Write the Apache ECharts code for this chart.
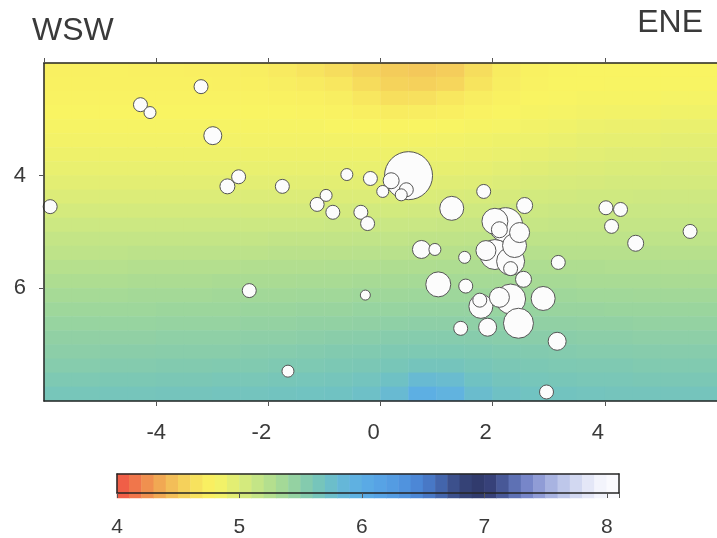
<!DOCTYPE html>
<html>
<head>
<meta charset="utf-8">
<script src="https://cdn.jsdelivr.net/npm/echarts@6/dist/echarts.min.js"></script>
<style>html,body{margin:0;padding:0;background:#fff;}#c{width:717px;height:538px;}</style>
</head>
<body>
<div id="c"></div>
<script>
// ---- velocity model cells (km along profile, depth km, Vp km/s) ----
const xCells = [-5.75,-5.25,-4.75,-4.25,-3.75,-3.25,-2.75,-2.25,-1.75,-1.25,-0.75,-0.25,0.25,0.75,1.25,1.75,2.25,2.75,3.25,3.75,4.25,4.75,5.25,5.75];
const depthCells = [2.125,2.375,2.625,2.875,3.125,3.375,3.625,3.875,4.125,4.375,4.625,4.875,5.125,5.375,5.625,5.875,6.125,6.375,6.625,6.875,7.125,7.375,7.625,7.875];
const velocity = [
[4.76,4.76,4.77,4.76,4.76,4.75,4.75,4.74,4.70,4.66,4.62,4.56,4.52,4.50,4.53,4.62,4.72,4.77,4.79,4.80,4.80,4.80,4.80,4.80],
[4.77,4.77,4.77,4.77,4.77,4.77,4.76,4.76,4.74,4.71,4.68,4.61,4.56,4.55,4.58,4.66,4.74,4.78,4.80,4.80,4.81,4.81,4.81,4.81],
[4.78,4.78,4.78,4.78,4.78,4.78,4.78,4.78,4.77,4.76,4.74,4.68,4.63,4.64,4.68,4.73,4.77,4.80,4.81,4.82,4.82,4.82,4.83,4.83],
[4.80,4.80,4.80,4.80,4.80,4.80,4.80,4.80,4.80,4.79,4.78,4.75,4.72,4.73,4.75,4.78,4.80,4.82,4.83,4.84,4.85,4.85,4.86,4.86],
[4.82,4.82,4.82,4.82,4.82,4.82,4.82,4.82,4.82,4.82,4.81,4.80,4.79,4.80,4.81,4.82,4.83,4.85,4.86,4.88,4.89,4.89,4.90,4.90],
[4.84,4.84,4.84,4.84,4.84,4.84,4.84,4.84,4.84,4.84,4.84,4.84,4.84,4.84,4.85,4.86,4.87,4.88,4.90,4.92,4.93,4.93,4.94,4.94],
[4.87,4.87,4.87,4.87,4.87,4.87,4.87,4.87,4.87,4.87,4.87,4.87,4.87,4.88,4.88,4.89,4.90,4.92,4.94,4.96,4.97,4.97,4.98,4.98],
[4.91,4.91,4.91,4.91,4.91,4.91,4.91,4.91,4.91,4.91,4.91,4.91,4.91,4.92,4.92,4.93,4.95,4.97,4.99,5.00,5.01,5.01,5.02,5.02],
[4.95,4.95,4.95,4.95,4.95,4.95,4.95,4.95,4.95,4.95,4.95,4.95,4.96,4.96,4.97,4.98,5.00,5.02,5.03,5.04,5.05,5.05,5.05,5.05],
[5.00,5.00,5.00,5.00,5.00,5.00,5.00,5.00,5.00,5.00,5.00,5.00,5.01,5.01,5.02,5.03,5.04,5.06,5.07,5.08,5.08,5.09,5.09,5.09],
[5.05,5.05,5.05,5.05,5.05,5.05,5.05,5.05,5.05,5.05,5.05,5.06,5.06,5.07,5.07,5.08,5.09,5.10,5.11,5.11,5.12,5.12,5.12,5.12],
[5.10,5.10,5.10,5.10,5.10,5.10,5.10,5.10,5.10,5.10,5.11,5.11,5.12,5.12,5.13,5.13,5.14,5.14,5.15,5.15,5.15,5.15,5.15,5.15],
[5.15,5.15,5.15,5.15,5.15,5.15,5.15,5.15,5.16,5.16,5.16,5.17,5.17,5.18,5.18,5.19,5.19,5.19,5.19,5.19,5.19,5.19,5.19,5.19],
[5.19,5.19,5.19,5.20,5.20,5.20,5.20,5.20,5.21,5.21,5.21,5.22,5.22,5.23,5.23,5.24,5.24,5.24,5.23,5.23,5.23,5.23,5.23,5.23],
[5.24,5.24,5.24,5.25,5.25,5.25,5.25,5.26,5.26,5.26,5.27,5.27,5.28,5.28,5.29,5.29,5.29,5.29,5.28,5.28,5.27,5.27,5.27,5.27],
[5.29,5.29,5.29,5.30,5.30,5.30,5.31,5.31,5.31,5.32,5.32,5.33,5.33,5.34,5.34,5.34,5.34,5.33,5.33,5.32,5.32,5.32,5.31,5.31],
[5.34,5.34,5.34,5.35,5.35,5.35,5.36,5.36,5.36,5.37,5.37,5.38,5.38,5.39,5.39,5.39,5.39,5.38,5.38,5.37,5.37,5.36,5.36,5.36],
[5.39,5.39,5.39,5.39,5.40,5.40,5.40,5.41,5.41,5.42,5.42,5.43,5.43,5.44,5.44,5.44,5.43,5.43,5.42,5.42,5.41,5.41,5.41,5.41],
[5.43,5.43,5.43,5.43,5.44,5.44,5.44,5.45,5.45,5.46,5.46,5.47,5.48,5.49,5.49,5.48,5.48,5.47,5.47,5.46,5.46,5.45,5.45,5.45],
[5.47,5.47,5.47,5.47,5.48,5.48,5.48,5.49,5.49,5.50,5.51,5.52,5.53,5.54,5.54,5.53,5.52,5.51,5.51,5.50,5.50,5.49,5.49,5.49],
[5.50,5.50,5.51,5.51,5.52,5.52,5.52,5.53,5.54,5.55,5.56,5.57,5.58,5.59,5.59,5.58,5.57,5.56,5.55,5.54,5.54,5.53,5.53,5.53],
[5.54,5.54,5.55,5.55,5.56,5.56,5.57,5.57,5.58,5.59,5.60,5.61,5.63,5.66,5.66,5.63,5.61,5.60,5.59,5.58,5.58,5.57,5.57,5.57],
[5.59,5.59,5.60,5.60,5.61,5.61,5.62,5.62,5.63,5.64,5.65,5.67,5.71,5.80,5.78,5.70,5.66,5.64,5.63,5.62,5.62,5.61,5.61,5.61],
[5.64,5.64,5.65,5.65,5.66,5.66,5.67,5.67,5.68,5.69,5.70,5.73,5.80,5.98,5.92,5.77,5.71,5.69,5.68,5.67,5.66,5.66,5.66,5.66]
];

// ---- earthquakes: distance (km), depth (km), magnitude ----
const quakeX = [-4.28,-4.11,-3.20,-2.99,-2.53,-2.73,-5.89,-1.75,-0.60,-0.97,-1.13,-0.85,-0.35,-2.34,-1.65,-0.18,0.50,0.19,0.04,0.46,-0.23,1.27,1.84,2.57,2.04,2.23,2.12,2.48,2.39,1.88,2.04,2.32,2.32,2.55,0.73,0.97,1.50,3.17,1.03,1.52,2.32,2.12,1.79,1.77,2.90,2.46,1.91,1.43,3.15,2.96,-0.27,4.02,4.28,4.12,4.55,5.52,0.37];
const quakeDepth = [2.74,2.88,2.42,3.29,4.02,4.19,4.55,4.19,3.98,4.35,4.51,4.65,4.65,6.04,7.47,4.05,4.00,4.09,4.28,4.25,4.85,4.58,4.28,4.53,4.81,4.87,4.96,5.01,5.24,5.33,5.40,5.52,5.65,5.84,5.31,5.31,5.45,5.54,5.93,5.96,6.19,6.16,6.32,6.21,6.18,6.62,6.69,6.71,6.94,7.84,6.12,4.57,4.60,4.90,5.20,4.99,4.34];
const quakeMag = [2.4,2.2,2.4,2.8,2.4,2.5,2.4,2.4,2.2,2.2,2.4,2.4,2.4,2.4,2.2,2.4,5.8,2.6,2.2,2.4,2.4,3.4,2.4,2.6,3.6,4.4,2.6,3.0,3.4,3.0,4.0,3.8,2.4,2.6,2.8,2.2,2.2,2.4,3.5,2.4,4.0,3.0,3.4,2.4,3.4,4.0,2.8,2.4,2.8,2.4,2.0,2.4,2.4,2.4,2.6,2.4,2.2];

// ---- colour scale ----
const colorbarSteps = [4.05,4.15,4.25,4.35,4.45,4.55,4.65,4.75,4.85,4.95,5.05,5.15,5.25,5.35,5.45,5.55,5.65,5.75,5.85,5.95,6.05,6.15,6.25,6.35,6.45,6.55,6.65,6.75,6.85,6.95,7.05,7.15,7.25,7.35,7.45,7.55,7.65,7.75,7.85,7.95,8.05];
const palette = ['#ef5446','#f06848','#f0844e','#f09c50','#f2b456','#f4c85a','#f6da5c','#f8ea60','#f9f462','#eaf06e','#dcec78','#cce882','#bce28a','#acdc92','#9cd69c','#8ccea8','#7cc8b4','#70c2c2','#68bad2','#62b4de','#5caee4','#58a6e6','#56a0e4','#5298e0','#4e8edc','#4a80d0','#4670bc','#405a9c','#38467c','#323e70','#2f386a','#3e4a88','#5266a6','#6a7cc2','#8490d0','#9ca8dc','#b4bee6','#c8d0ee','#dce0f4','#eceef9','#fafafe'];

// ---- tick labels ----
const xTickLabels = [-4,-2,0,2,4];
const depthTickLabels = [4,6];
const cbTickLabels = [4,5,6,7,8];

const FONT = '"Liberation Sans", Arial, Helvetica, sans-serif';
const TXT = '#3a3a3a';
const LINE = '#262626';

const heatData = [];
for (let r = 0; r < depthCells.length; r++) {
  for (let c = 0; c < xCells.length; c++) heatData.push([c, r, velocity[r][c]]);
}
const quakeData = quakeX.map((x, i) => [x, quakeDepth[i], quakeMag[i]])
  .sort((a, b) => b[2] - a[2]);
const cbData = colorbarSteps.map((v, i) => [i, 0, v]);

const chart = echarts.init(document.getElementById('c'), null, {renderer: 'canvas'});
const axLine = {show: true, onZero: false, lineStyle: {color: LINE, width: 1.5}};
const hidden = {show: false};

chart.setOption({
  backgroundColor: '#ffffff',
  animation: false,
  title: [
    {text: 'WSW', left: 32, top: 15, padding: 0,
     textStyle: {fontFamily: FONT, fontSize: 32, fontWeight: 'normal', color: TXT}},
    {text: 'ENE', right: 14, top: 7, padding: 0,
     textStyle: {fontFamily: FONT, fontSize: 32, fontWeight: 'normal', color: TXT}}
  ],
  grid: [
    {left: 44, top: 63, width: 677, height: 338},
    {left: 44, top: 63, width: 677, height: 338},
    {left: 117, top: 474, width: 502, height: 24},
    {left: 117, top: 474, width: 502, height: 24}
  ],
  visualMap: {
    type: 'continuous', show: false, min: 4, max: 8, seriesIndex: [0, 2],
    inRange: {color: palette}
  },
  xAxis: [
    {type: 'value', gridIndex: 0, position: 'bottom', min: -6, max: 6, interval: 2, z: 10,
     axisLine: axLine, splitLine: hidden,
     axisTick: {show: true, length: 5, lineStyle: {color: '#555', width: 1}},
     axisLabel: {show: true, fontFamily: FONT, fontSize: 22, color: TXT, margin: 21,
       showMinLabel: false, showMaxLabel: false,
       formatter: v => xTickLabels.indexOf(v) >= 0 ? (v === -4 ? '{a|' + v + '}' : '{b|' + v + '}') : '',
       rich: {a: {fontFamily: FONT, fontSize: 22, color: TXT},
              b: {fontFamily: FONT, fontSize: 22, color: TXT, padding: [0, 14, 0, 0]}}}},
    {type: 'value', gridIndex: 0, position: 'top', min: -6, max: 6, interval: 2, z: 10,
     axisLine: axLine, splitLine: hidden, axisLabel: hidden,
     axisTick: {show: true, length: 5, lineStyle: {color: '#555', width: 1}}},
    {type: 'category', gridIndex: 1, data: xCells.map(String), show: false},
    {type: 'value', gridIndex: 2, position: 'bottom', min: 4, max: 8.1, interval: 1, z: 10,
     axisLine: axLine, splitLine: hidden,
     axisTick: {show: true, length: 5, lineStyle: {color: '#555', width: 1}},
     axisLabel: {show: true, fontFamily: FONT, fontSize: 21, color: TXT, margin: 24,
       formatter: v => cbTickLabels.indexOf(v) >= 0 ? String(v) : ''}},
    {type: 'value', gridIndex: 2, position: 'top', min: 4, max: 8.1, z: 10,
     axisLine: axLine, splitLine: hidden, axisLabel: hidden, axisTick: hidden},
    {type: 'category', gridIndex: 3, data: colorbarSteps.map(String), show: false}
  ],
  yAxis: [
    {type: 'value', gridIndex: 0, position: 'left', min: 2, max: 8, interval: 2, inverse: true, z: 10,
     axisLine: axLine, splitLine: hidden,
     axisTick: {show: true, length: 5, lineStyle: {color: '#555', width: 1}},
     axisLabel: {show: true, fontFamily: FONT, fontSize: 22, color: TXT, margin: 18,
       showMinLabel: false, showMaxLabel: false,
       formatter: v => depthTickLabels.indexOf(v) >= 0 ? String(v) : ''}},
    {type: 'category', gridIndex: 1, data: depthCells.map(String), inverse: true, show: false},
    {type: 'value', gridIndex: 2, position: 'left', min: 0, max: 1, z: 10,
     axisLine: axLine, splitLine: hidden, axisLabel: hidden, axisTick: hidden},
    {type: 'value', gridIndex: 2, position: 'right', min: 0, max: 1, z: 10,
     axisLine: axLine, splitLine: hidden, axisLabel: hidden, axisTick: hidden},
    {type: 'category', gridIndex: 3, data: ['Vp'], show: false}
  ],
  series: [
    {type: 'heatmap', xAxisIndex: 2, yAxisIndex: 1, data: heatData,
     itemStyle: {borderWidth: 0}, emphasis: {disabled: true}, silent: true, z: 1},
    {type: 'scatter', xAxisIndex: 0, yAxisIndex: 0, data: quakeData, z: 5,
     symbol: 'circle', symbolSize: v => 10 * (v[2] - 1),
     itemStyle: {color: '#fcfcfc', borderColor: '#555555', borderWidth: 1, opacity: 1},
     emphasis: {disabled: true}, silent: true},
    {type: 'heatmap', xAxisIndex: 5, yAxisIndex: 4, data: cbData,
     itemStyle: {borderWidth: 0}, emphasis: {disabled: true}, silent: true, z: 1}
  ]
});
</script>
</body>
</html>
